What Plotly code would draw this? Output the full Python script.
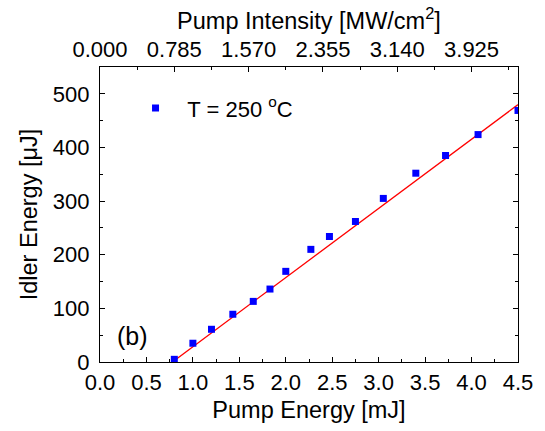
import numpy as np
import plotly.graph_objects as go

pump_energy = [0.80, 1.00, 1.20, 1.43, 1.65, 1.83, 2.00, 2.27, 2.47, 2.75, 3.05, 3.40, 3.72, 4.07, 4.50]
idler_energy = [5, 35, 61, 89, 113, 136, 169, 210, 234, 262, 305, 352, 385, 424, 469]
fit_slope = 129.0
fit_threshold = 0.78
fit_range = [0.78, 4.5]
top_tick_pos = [0.0, 0.8, 1.6, 2.4, 3.2, 4.0]
top_tick_text = ["0.000", "0.785", "1.570", "2.355", "3.140", "3.925"]

FONT = "Liberation Sans, Arial, sans-serif"
TICK = 22
TITLE = 23.5

fx = np.array(fit_range)
fy = fit_slope * (fx - fit_threshold)

fig = go.Figure()
fig.add_trace(go.Scatter(x=fx, y=fy, mode="lines", line=dict(color="#ff0000", width=1.3),
                         showlegend=False, hoverinfo="skip"))
fig.add_trace(go.Scatter(x=pump_energy, y=idler_energy, mode="markers",
                         marker=dict(symbol="square", size=7, color="#0000ff"),
                         name="  T = 250 <sup>o</sup>C"))
# dummy trace for top axis
fig.add_trace(go.Scatter(x=[0], y=[0], xaxis="x2", mode="markers", marker=dict(opacity=0),
                         showlegend=False, hoverinfo="skip"))

axis_common = dict(showline=True, linecolor="black", linewidth=1.3, ticks="inside",
                   tickcolor="black", ticklen=5, tickwidth=1, showgrid=False, zeroline=False,
                   tickfont=dict(family=FONT, size=TICK, color="black"))

fig.update_layout(
    width=545, height=431,
    margin=dict(l=100, r=22, t=67, b=68),
    paper_bgcolor="white", plot_bgcolor="white",
    font=dict(family=FONT, color="black"),
    xaxis=dict(range=[0, 4.5], tickvals=[0, 0.5, 1.0, 1.5, 2.0, 2.5, 3.0, 3.5, 4.0, 4.5],
               ticktext=["0.0", "0.5", "1.0", "1.5", "2.0", "2.5", "3.0", "3.5", "4.0", "4.5"],
               minor=dict(dtick=0.25, tick0=0, ticks="inside", ticklen=3, tickcolor="black"),
               title=dict(text="Pump Energy [mJ]", font=dict(family=FONT, size=TITLE), standoff=8),
               **axis_common),
    xaxis2=dict(range=[0, 4.5], overlaying="x", side="top", tickvals=top_tick_pos,
                ticktext=top_tick_text,
                minor=dict(dtick=0.4, tick0=0, ticks="inside", ticklen=3, tickcolor="black"),
                title=dict(text="Pump Intensity [MW/cm<sup>2</sup>]", font=dict(family=FONT, size=TITLE), standoff=0),
                **axis_common),
    yaxis=dict(range=[0, 550], tickvals=[0, 100, 200, 300, 400, 500], mirror="ticks",
               minor=dict(dtick=50, tick0=0, ticks="inside", ticklen=3, tickcolor="black"),
               title=dict(text="Idler Energy [μJ]", font=dict(family=FONT, size=TITLE), standoff=8),
               ticklabelstandoff=5,
               **axis_common),
    legend=dict(x=0.085, y=0.86, xanchor="left", yanchor="middle", bgcolor="rgba(0,0,0,0)",
                font=dict(family=FONT, size=TICK), itemwidth=30),
    annotations=[dict(x=0.035, y=0.035, xref="paper", yref="paper", text="(b)", showarrow=False,
                      xanchor="left", yanchor="bottom", font=dict(family=FONT, size=25))],
)

fig.write_html("out.html")
